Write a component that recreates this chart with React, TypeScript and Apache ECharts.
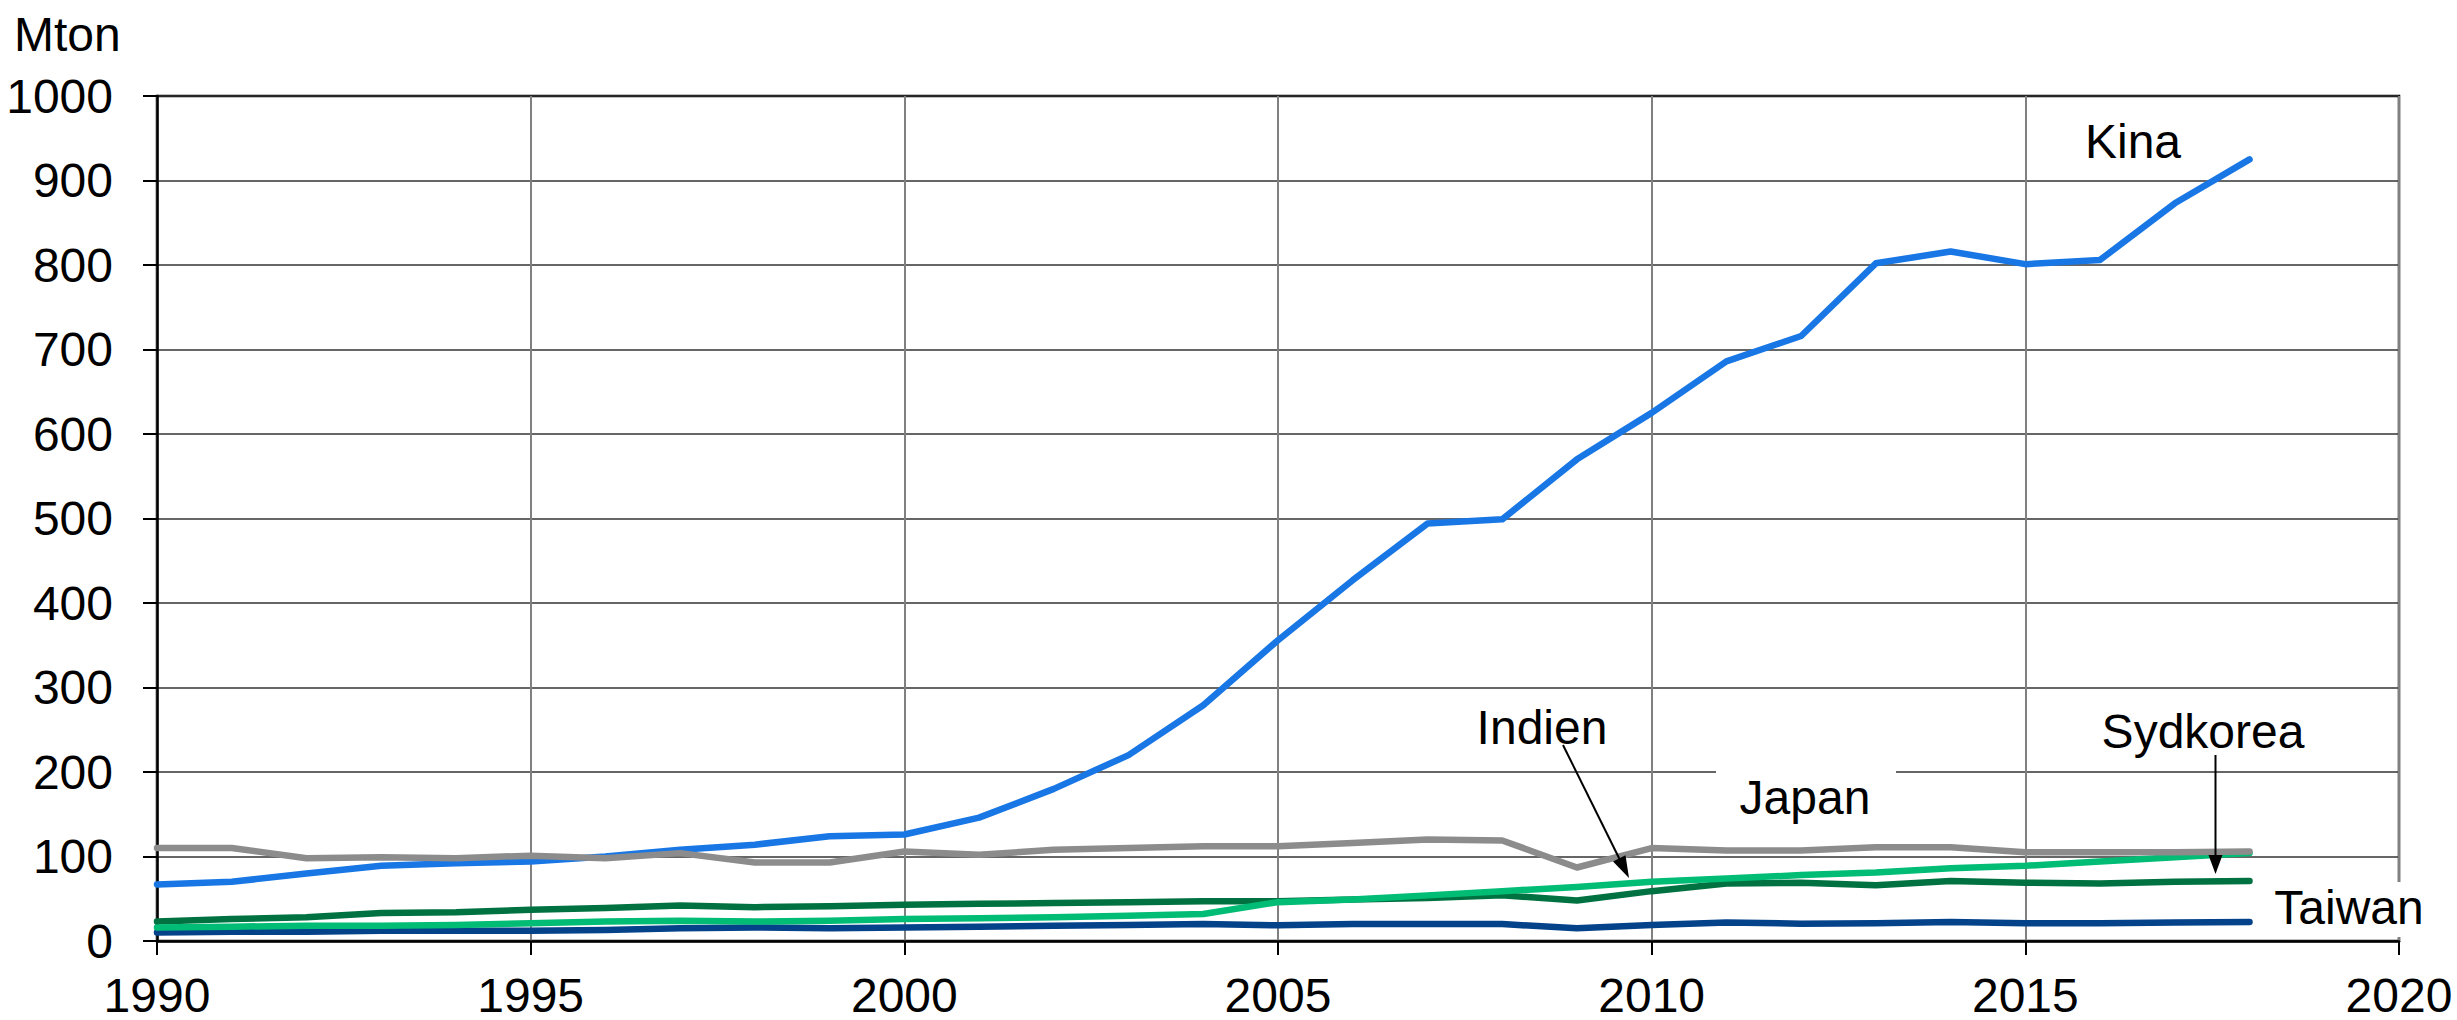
import React, { useEffect, useRef } from "react";
import * as echarts from "echarts";

const years = [1990, 1991, 1992, 1993, 1994, 1995, 1996, 1997, 1998, 1999, 2000, 2001, 2002, 2003, 2004, 2005, 2006, 2007, 2008, 2009, 2010, 2011, 2012, 2013, 2014, 2015, 2016, 2017, 2018];

const kina = [67, 70, 80, 89, 92, 94, 100, 108, 114, 124, 126, 146, 180, 220, 279, 356, 427, 494, 499, 570, 625, 686, 716, 802, 816, 801, 806, 873, 925];
const japan = [110, 110, 98, 99, 98, 101, 98, 104, 93, 93, 106, 102, 108, 110, 112, 112, 116, 120, 119, 87, 110, 107, 107, 111, 111, 105, 105, 105, 106];
const sydkorea = [23, 26, 28, 33, 34, 37, 39, 42, 40, 41, 43, 44, 45, 46, 47, 47, 49, 51, 54, 48, 59, 68, 69, 66, 71, 69, 68, 70, 71];
const indien = [16, 17, 18, 18, 19, 21, 23, 24, 23, 24, 26, 27, 28, 30, 32, 46, 49, 54, 59, 64, 70, 74, 78, 81, 86, 89, 94, 99, 104];
const taiwan = [10, 11, 11, 12, 12, 12, 13, 15, 16, 15, 16, 17, 18, 19, 20, 18.5, 20, 20, 20, 15, 19, 22, 20.5, 21, 22.5, 21, 21, 22, 22.5];

const seriesNames = ["Taiwan", "Sydkorea", "Indien", "Kina", "Japan"];
const seriesValues = [taiwan, sydkorea, indien, kina, japan];
const seriesColors = ["#04428A", "#007241", "#00BC74", "#1877E5", "#8C8C8C"];

const FONT = '"Liberation Sans", Arial, sans-serif';
const FS = 48;

export default function App() {
  const ref = useRef<HTMLDivElement>(null);

  useEffect(() => {
    if (!ref.current) return;
    const chart = echarts.init(ref.current, null, { renderer: "svg" });
    const label = (t: string, x: number, y: number) => ({
      type: "text",
      z: 20,
      x,
      y,
      style: {
        text: t,
        fontSize: FS,
        fontFamily: FONT,
        fill: "#000",
        align: "center",
        verticalAlign: "middle",
      },
    });
    chart.setOption({
      animation: false,
      backgroundColor: "#fff",
      grid: {
        left: 157,
        top: 96,
        right: 58,
        bottom: 79,
        show: true,
        borderColor: "#000",
        borderWidth: 2.5,
        backgroundColor: "transparent",
      },
      xAxis: {
        type: "value",
        min: 1990,
        max: 2020,
        interval: 5,
        axisLine: { show: true, lineStyle: { color: "#000", width: 2.5 } },
        axisTick: { show: true, length: 14, lineStyle: { color: "#000", width: 2 } },
        axisLabel: {
          color: "#000",
          fontSize: FS,
          fontFamily: FONT,
          lineHeight: 46,
          margin: 31,
          formatter: (v: number) => String(v),
        },
        splitLine: { show: true, lineStyle: { color: "#808080", width: 2 } },
      },
      yAxis: {
        type: "value",
        min: 0,
        max: 1000,
        interval: 100,
        axisLine: { show: true, lineStyle: { color: "#000", width: 2.5 } },
        axisTick: { show: true, length: 14, lineStyle: { color: "#000", width: 2 } },
        axisLabel: {
          color: "#000",
          fontSize: FS,
          fontFamily: FONT,
          margin: 44,
          formatter: (v: number) => String(v),
        },
        splitLine: { show: true, lineStyle: { color: "#333", width: 1.6 } },
      },
      series: seriesNames.map((name, i) => ({
        name,
        type: "line",
        symbol: "none",
        z: 3 + i,
        lineStyle: { color: seriesColors[i], width: 6.5, cap: "round", join: "round" },
        data: years.map((y, k) => [y, seriesValues[i][k]]),
      })),
      graphic: [
        { type: "rect", z: 15, shape: { x: 1716, y: 764, width: 180, height: 16 }, style: { fill: "#fff" } },
        { type: "rect", z: 15, shape: { x: 2385, y: 882, width: 30, height: 55 }, style: { fill: "#fff" } },
        { type: "text", z: 20, left: 14, top: 10, style: { text: "Mton", fontSize: FS, fontFamily: FONT, fill: "#000" } },
        label("Kina", 2133, 141),
        label("Indien", 1542, 727),
        label("Japan", 1805, 797),
        label("Sydkorea", 2203, 731),
        label("Taiwan", 2349, 907),
        { type: "line", z: 20, shape: { x1: 1563, y1: 745, x2: 1621, y2: 862 }, style: { stroke: "#000", lineWidth: 2 } },
        { type: "polygon", z: 20, shape: { points: [[1629, 878], [1613, 861.4], [1625.5, 855.2]] }, style: { fill: "#000" } },
        { type: "line", z: 20, shape: { x1: 2215.5, y1: 755, x2: 2215.5, y2: 860 }, style: { stroke: "#000", lineWidth: 2 } },
        { type: "polygon", z: 20, shape: { points: [[2215.5, 874], [2208.5, 855], [2222.5, 855]] }, style: { fill: "#000" } },
      ],
    });
    return () => chart.dispose();
  }, []);

  return (
    <div
      ref={ref}
      style={{ position: "fixed", left: 0, top: 0, width: 2457, height: 1020, background: "#fff" }}
    />
  );
}
